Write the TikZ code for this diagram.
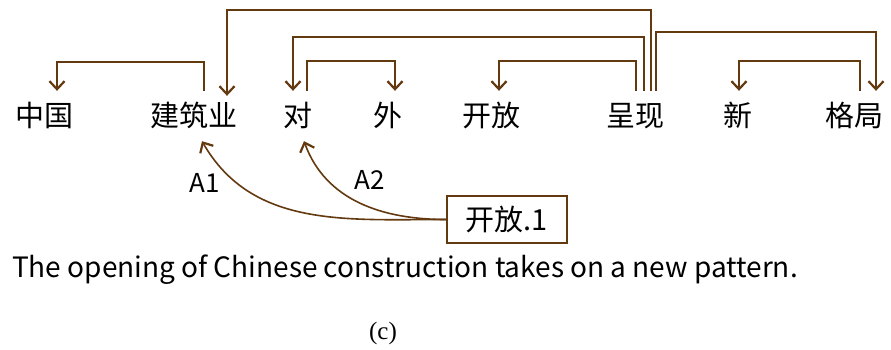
\documentclass[tikz,border=0pt]{standalone}
\usepackage{fontspec}
\setmainfont{Liberation Serif}
\newfontfamily\cjkgothic{Noto Sans CJK SC}
\newfontfamily\glossfont{Noto Sans CJK JP}
\usetikzlibrary{arrows.meta,positioning}
\definecolor{DepBrown}{RGB}{99,57,16}

\begin{document}
\begin{tikzpicture}[x=1pt,y=-1pt,
    word/.style={anchor=base,inner xsep=0pt,inner ysep=11pt,
      text height=24pt,text depth=4pt,font=\cjkgothic\fontsize{29}{29}\selectfont},
    dep/.style={DepBrown,line width=1.6pt,
      -{Straight Barb[length=8pt,width=15pt,line width=2.2pt]}},
    role/.style={font=\glossfont\fontsize{26}{26}\selectfont}]
      \useasboundingbox (0,0) rectangle (891,349);
      % the words of the sentence
      \foreach \name/\x/\txt in {zg/44/中国,jzy/194/建筑业,dui/298/对,wai/388/外,
          kf/491/开放,cx/635/呈现,xin/738/新,gj/854/格局}
        \node[word] (\name) at (\x,126) {\txt};
      % dependency arcs above the words
      \draw[dep] ([xshift=10pt]jzy.north) -- ++(0,-29) -| ([xshift=13pt]zg.north);
      \draw[dep] ([xshift=16pt]cx.north) -- ++(0,-81) -| ([xshift=33pt,yshift=-5pt]jzy.north);
      \draw[dep] ([xshift=9pt]cx.north) -- ++(0,-54) -| ([xshift=-5pt]dui.north);
      \draw[dep] ([xshift=9pt]dui.north) -- ++(0,-30) -| ([xshift=7pt]wai.north);
      \draw[dep] ([xshift=1pt]cx.north) -- ++(0,-30) -| ([xshift=8pt]kf.north);
      \draw[dep] ([xshift=21pt]cx.north) -- ++(0,-59) -| ([xshift=22pt]gj.north);
      \draw[dep] ([xshift=6pt]gj.north) -- ++(0,-30) -| ([xshift=1pt]xin.north);
      % predicate frame and its arguments
      \node[draw=DepBrown,line width=1.6pt,minimum width=120pt,minimum height=47pt,
        inner sep=0pt,font=\cjkgothic\fontsize{29}{29}\selectfont] (frame) at (507,219.5) {开放.1};
      \draw[dep] (frame.west) to[out=180,in=-60] ([xshift=8pt]jzy.south);
      \draw[dep] (frame.west) to[out=180,in=-70] ([xshift=6pt]dui.south);
      \node[role] (a1) at (205,183) {A1};
      \node[role] (a2) at (370,180) {A2};
      % gloss and caption
      \node[anchor=west,inner sep=0pt,font=\glossfont\fontsize{28}{28}\selectfont] (gloss) at (12,270)
        {The opening of Chinese construction takes on a new pattern.};
      \node[font=\fontsize{25}{25}\selectfont] (cap) at (383,333) {(c)};
    \end{tikzpicture}
\end{document}
